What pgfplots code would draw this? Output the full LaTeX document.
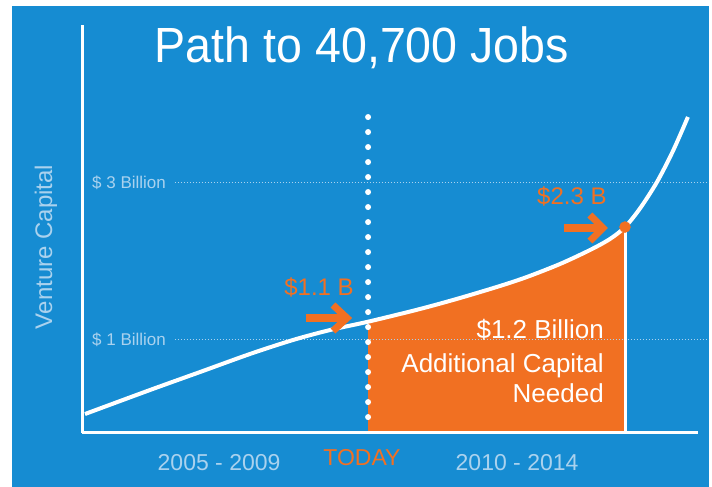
\documentclass[border=0pt]{standalone}
\usepackage{fontspec}
\setmainfont{Liberation Sans}
\usepackage{pgfplots}
\usepackage{pgfplotstable}
\pgfplotsset{compat=1.18}
\usepgfplotslibrary{fillbetween}
\definecolor{bgblue}{RGB}{22,140,210}
\definecolor{vcorange}{RGB}{241,112,34}
\definecolor{paleblue}{RGB}{170,210,238}

% Venture capital path (x: year, y: billion USD, geometry of the graphic)
\pgfplotstableread{
x y
2005.250 0.057
2006.341 0.363
2007.180 0.592
2008.019 0.822
2008.740 1.000
2009.361 1.127
2010.000 1.233
2010.871 1.395
2011.542 1.535
2012.213 1.688
2012.666 1.803
2013.220 1.968
2013.723 2.146
2014.059 2.287
2014.311 2.439
2014.562 2.675
2014.848 3.013
2015.116 3.408
2015.367 3.841
}\curvedata

\begin{document}
\begin{tikzpicture}
\begin{axis}[
  at={(82bp,54bp)}, anchor=south west,
  scale only axis, width=616bp, height=408bp,
  xmin=2005.2, xmax=2015.536, ymin=-0.1847, ymax=5.0127,
  set layers, axis on top,
  axis lines=left,
  axis line style={white, line width=3bp, -},
  clip=false,
  major tick length=0pt,
  xtick={2007.5,2012.5},
  xticklabels={2005 - 2009, 2010 - 2014},
  ytick={1,3},
  yticklabels={\$ 1 Billion, \$ 3 Billion},
  xticklabel style={anchor=center, yshift=-30bp, inner sep=0pt, text=paleblue, font=\fontsize{23bp}{27bp}\selectfont},
  yticklabel style={anchor=west, xshift=10bp, inner sep=0pt, text=paleblue, font=\fontsize{17bp}{20bp}\selectfont},
]
\begin{pgfonlayer}{axis background}
\fill[white] (axis cs:2003.824,-0.8726) rectangle (axis cs:2015.771,5.331);
\fill[bgblue] (axis cs:2004.025,-0.8726) rectangle (axis cs:2015.72,5.255);
\end{pgfonlayer}
% dotted gridlines
\addplot[paleblue, line width=1bp, dash pattern=on 1.5bp off 1.5bp, forget plot] coordinates {(2006.76,3) (2015.72,3)};
\addplot[paleblue, line width=1bp, dash pattern=on 1.5bp off 1.5bp, forget plot] coordinates {(2006.76,1) (2015.72,1)};
% paths for the fill
\addplot[draw=none, name path=base, forget plot] coordinates {(2005.2,-0.1847) (2015.536,-0.1847)};
\addplot[draw=none, smooth, name path=curve, forget plot] table[x=x,y=y] {\curvedata};
\addplot[vcorange, draw=none] fill between[of=curve and base, soft clip={domain=2010:2014.311}];
% curve
\addplot[white, line width=4bp, smooth] table[x=x,y=y] {\curvedata};
% today dotted line
\addplot[white, line width=6bp, line cap=round, dash pattern=on 0bp off 15bp] coordinates {(2010,3.84) (2010,-0.12)};
% right edge line
\addplot[white, line width=3bp] coordinates {(2014.311,-0.1847) (2014.311,2.439)};
% end point
\addplot[only marks, mark=*, mark size=5.5bp, color=vcorange, mark options={draw=vcorange, fill=vcorange}] coordinates {(2014.311,2.439)};
% arrows
\draw[vcorange, line width=8bp] (axis cs:2008.958,1.280) -- (axis cs:2009.613,1.280);
\draw[vcorange, line width=7bp, line join=miter] (axis cs:2009.411,1.446) -- (axis cs:2009.646,1.280) -- (axis cs:2009.411,1.115);
\draw[vcorange, line width=8bp] (axis cs:2013.287,2.427) -- (axis cs:2013.891,2.427);
\draw[vcorange, line width=7bp, line join=miter] (axis cs:2013.723,2.592) -- (axis cs:2013.942,2.427) -- (axis cs:2013.723,2.261);
% annotations
\node[text=vcorange, font=\fontsize{24bp}{28bp}\selectfont] at (axis cs:2009.177,1.675) {\$1.1 B};
\node[text=vcorange, font=\fontsize{24bp}{28bp}\selectfont] at (axis cs:2013.42,2.834) {\$2.3 B};
\node[anchor=base east, inner sep=0pt, text=white, font=\fontsize{26bp}{30bp}\selectfont] at (axis cs:2013.958,1.025) {\$1.2 Billion};
\node[anchor=base east, inner sep=0pt, text=white, font=\fontsize{26bp}{30bp}\selectfont] at (axis cs:2013.958,0.592) {Additional Capital};
\node[anchor=base east, inner sep=0pt, text=white, font=\fontsize{26bp}{30bp}\selectfont] at (axis cs:2013.958,0.210) {Needed};
\node[text=vcorange, font=\fontsize{23bp}{27bp}\selectfont] at (axis cs:2009.898,-0.503) {TODAY};
\node[rotate=90, text=paleblue, font=\fontsize{24bp}{28bp}\selectfont] at (axis cs:2004.596,2.185) {Venture Capital};
\node[anchor=base, inner sep=0pt, text=white, font=\fontsize{48bp}{52bp}\selectfont] at (axis cs:2009.898,4.541) {\scalebox{0.97}[1.03]{Path to 40,700 Jobs}};
\end{axis}
\pgfresetboundingbox
\useasboundingbox (0,0) rectangle (712bp,487bp);
\end{tikzpicture}
\end{document}
